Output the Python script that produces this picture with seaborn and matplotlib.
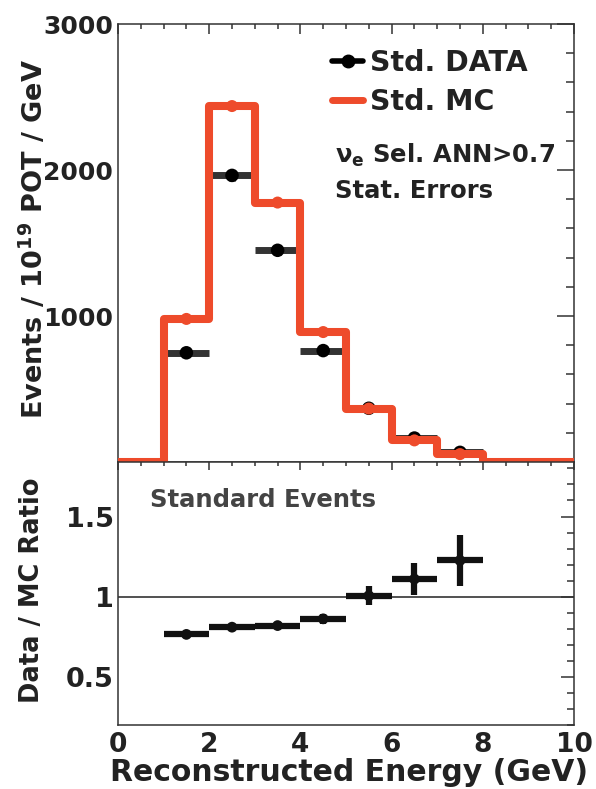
import numpy as np
import pandas as pd
import matplotlib
matplotlib.use("Agg")
import matplotlib.pyplot as plt
import seaborn as sns
from matplotlib.lines import Line2D
from matplotlib.ticker import MultipleLocator, FixedLocator, FuncFormatter

# ---------------- data ----------------
bin_edges = [0, 1, 2, 3, 4, 5, 6, 7, 8, 9, 10]
bin_centers = [0.5, 1.5, 2.5, 3.5, 4.5, 5.5, 6.5, 7.5, 8.5, 9.5]
mc_events = [0, 980, 2438, 1777, 890, 366, 148, 54, 0, 0]

mc_pt_x = [1.5, 2.5, 3.5, 4.5, 5.5, 6.5, 7.5]
mc_pt_y = [980, 2438, 1777, 890, 366, 148, 54]
mc_pt_err = [14, 22, 18, 13, 8, 5, 3]

data_x = [1.5, 2.5, 3.5, 4.5, 5.5, 6.5, 7.5]
data_y = [748, 1963, 1450, 763, 368, 164, 66]
data_err = [25, 40, 33, 25, 18, 12, 8]

ratio_y = [0.765, 0.81, 0.82, 0.862, 1.006, 1.11, 1.226]
ratio_err = [0.02, 0.02, 0.02, 0.03, 0.06, 0.10, 0.16]

x_ticks = [0, 2, 4, 6, 8, 10]
top_y_ticks = [1000, 2000, 3000]
bot_y_ticks = [0.5, 1.0, 1.5]

RED = "#EE4B2B"
DARK = "#333333"
TXT = "#222222"

sns.set_style("white")
plt.rcParams["font.family"] = ["DejaVu Sans"]
plt.rcParams["font.weight"] = "bold"
plt.rcParams["mathtext.fontset"] = "dejavusans"
plt.rcParams["mathtext.default"] = "bf"

W, H = 596, 789
fig = plt.figure(figsize=(W / 100, H / 100), dpi=100)
fig.patch.set_facecolor("white")

L, R = 118, 574
ax1 = fig.add_axes([L / W, 1 - 462 / H, (R - L) / W, (462 - 24) / H])
ax2 = fig.add_axes([L / W, 1 - 725 / H, (R - L) / W, (725 - 462) / H])

# ---------------- top panel ----------------
df_mc = pd.DataFrame({"E": bin_centers, "w": mc_events})
sns.histplot(data=df_mc, x="E", weights="w", bins=bin_edges, element="step",
             fill=False, color=RED, linewidth=5.8, ax=ax1, zorder=5)

ax1.errorbar(data_x, data_y, xerr=0.5, yerr=data_err, fmt="none",
             ecolor=DARK, elinewidth=5, zorder=3)
df_data = pd.DataFrame({"E": data_x, "N": data_y})
sns.scatterplot(data=df_data, x="E", y="N", color="black", s=95,
                edgecolor="none", ax=ax1, zorder=4)

ax1.errorbar(mc_pt_x, mc_pt_y, yerr=mc_pt_err, fmt="none", ecolor=RED,
             elinewidth=3, zorder=6)
df_mcp = pd.DataFrame({"E": mc_pt_x, "N": mc_pt_y})
sns.scatterplot(data=df_mcp, x="E", y="N", color=RED, s=75,
                edgecolor="none", ax=ax1, zorder=7)

ax1.set_xlim(0, 10)
ax1.set_ylim(0, 3000)
ax1.xaxis.set_major_locator(FixedLocator(x_ticks))
ax1.xaxis.set_minor_locator(MultipleLocator(0.5))
ax1.yaxis.set_major_locator(FixedLocator(top_y_ticks))
ax1.yaxis.set_minor_locator(MultipleLocator(200))
ax1.tick_params(axis="x", labelbottom=False)
ax1.tick_params(which="both", direction="in", top=True, right=True,
                color=DARK, width=1.1)
ax1.tick_params(axis="y", which="major", length=12, labelsize=18,
                pad=3.5, labelcolor=TXT)
ax1.tick_params(axis="y", which="minor", length=6)
ax1.tick_params(axis="x", which="major", length=7)
ax1.tick_params(axis="x", which="minor", length=3.5)
ax1.set_xlabel("")
ax1.set_ylabel(r"Events / 10$^{\mathbf{19}}$ POT / GeV", fontsize=19.5,
               fontweight="bold", color=TXT)
ax1.yaxis.set_label_coords(-0.152, 0.51)

leg_handles = [
    Line2D([], [], color="black", lw=4, marker="o", ms=9),
    Line2D([], [], color=RED, lw=5),
]
ax1.legend(leg_handles, ["Std. DATA", "Std. MC"], loc="upper left",
           bbox_to_anchor=((332 - L) / (R - L), 1 - (49 - 24) / 438),
           frameon=False, borderpad=0, borderaxespad=0, handlelength=1.1,
           handletextpad=0.25, labelspacing=0.38,
           prop={"size": 20.5, "weight": "bold"}, labelcolor=TXT)

ax1.text((335 - L) / (R - L), 1 - (163 - 24) / 438,
         r"$\nu_{\mathbf{e}}$ Sel. ANN>0.7", transform=ax1.transAxes,
         fontsize=17.5, fontweight="bold", color=TXT, va="baseline")
ax1.text((335 - L) / (R - L), 1 - (198 - 24) / 438, "Stat. Errors",
         transform=ax1.transAxes, fontsize=17.5, fontweight="bold",
         color=TXT, va="baseline")

# ---------------- bottom panel ----------------
ax2.axhline(1.0, color=DARK, lw=1.2, zorder=1)
ax2.errorbar(data_x, ratio_y, xerr=0.5, yerr=ratio_err, fmt="none",
             ecolor="#111111", elinewidth=4.5, zorder=3)
df_ratio = pd.DataFrame({"E": data_x, "r": ratio_y})
sns.scatterplot(data=df_ratio, x="E", y="r", color="#111111", s=60,
                edgecolor="none", ax=ax2, zorder=4)

ax2.set_xlim(0, 10)
ax2.set_ylim(0.2, 1.84)
ax2.xaxis.set_major_locator(FixedLocator(x_ticks))
ax2.xaxis.set_minor_locator(MultipleLocator(0.5))
ax2.yaxis.set_major_locator(FixedLocator(bot_y_ticks))
ax2.yaxis.set_minor_locator(MultipleLocator(0.1))
ax2.yaxis.set_major_formatter(FuncFormatter(lambda v, p: f"{v:g}"))
ax2.xaxis.set_major_formatter(FuncFormatter(lambda v, p: f"{v:g}"))
ax2.tick_params(which="both", direction="in", top=True, right=True,
                color=DARK, width=1.1)
ax2.tick_params(axis="y", which="major", length=9.5, labelsize=19.5,
                pad=3, labelcolor=TXT)
ax2.tick_params(axis="y", which="minor", length=5)
ax2.tick_params(axis="x", which="major", length=6, labelsize=19,
                pad=5, labelcolor=TXT)
ax2.tick_params(axis="x", which="minor", length=3)
ax2.set_xlabel("Reconstructed Energy (GeV)", fontsize=21.5,
               fontweight="bold", color=TXT)
ax2.xaxis.label.set_va("baseline")
ax2.xaxis.set_label_coords((349 - L) / (R - L), -(781 - 725) / 263)
ax2.set_ylabel("Data / MC Ratio", fontsize=18.5, fontweight="bold", color=TXT)
ax2.yaxis.set_label_coords(-0.16, 0.513)

ax2.text((150 - L) / (R - L), 1 - (507 - 462) / 263, "Standard Events",
         transform=ax2.transAxes, fontsize=17.5, fontweight="bold",
         color="#444444", va="baseline")

for ax in (ax1, ax2):
    for s in ax.spines.values():
        s.set_color(DARK)
        s.set_linewidth(1.1)
    ax.set_facecolor("white")

fig.savefig("out.png", dpi=100, facecolor="white")
